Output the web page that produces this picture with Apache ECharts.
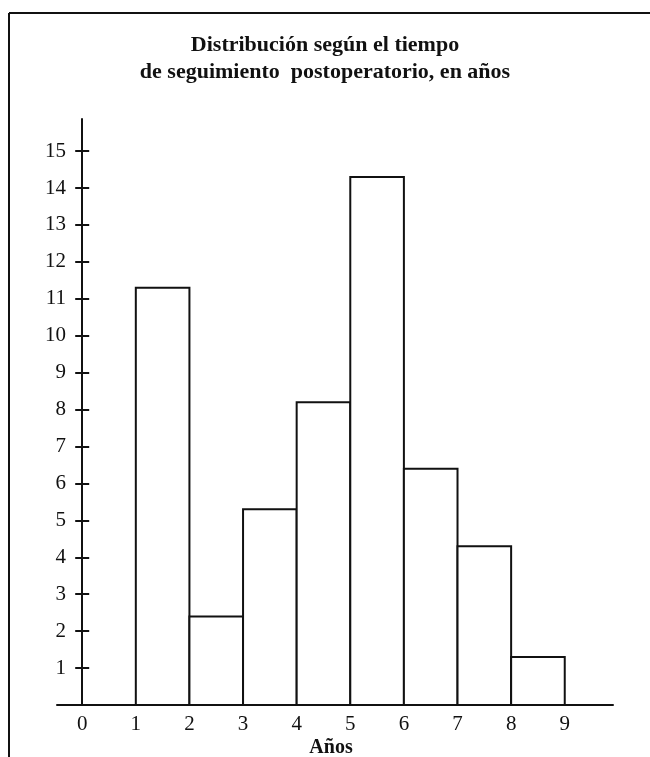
<!DOCTYPE html>
<html>
<head>
<meta charset="utf-8">
<script src="https://cdn.jsdelivr.net/npm/echarts@6/dist/echarts.min.js"></script>
<style>
  html, body { margin: 0; padding: 0; background: #fff; }
  #chart { width: 650px; height: 757px; }
</style>
</head>
<body>
<div id="chart"></div>
<script>
// histograma: tiempo de seguimiento postoperatorio
const binStart = [1, 2, 3, 4, 5, 6, 7, 8]
const binEnd = [2, 3, 4, 5, 6, 7, 8, 9]
const counts = [11.3, 2.4, 5.3, 8.2, 14.3, 6.4, 4.3, 1.3]
const xTicks = [0, 1, 2, 3, 4, 5, 6, 7, 8, 9]
const yTicks = [1, 2, 3, 4, 5, 6, 7, 8, 9, 10, 11, 12, 13, 14, 15]

const ink = '#111'
const serif = "'Liberation Serif', 'DejaVu Serif', serif"

let chart = echarts.init(document.getElementById('chart'), null, { renderer: 'canvas' })

let option = {
  backgroundColor: '#fff',
  animation: false,
  title: [
    {
      text: 'Distribución según el tiempo\nde seguimiento  postoperatorio, en años',
      left: 'center',
      top: 27,
      textStyle: {
        fontFamily: serif,
        fontSize: 22,
        fontWeight: 'bold',
        color: ink,
        lineHeight: 27,
      },
    },
    {
      text: 'Años',
      left: 326,
      top: 733,
      textAlign: 'center',
      textStyle: {
        fontFamily: serif,
        fontSize: 20,
        fontWeight: 'bold',
        color: ink,
      },
    },
  ],
  grid: {
    left: 57,
    right: 37,
    top: 119,
    bottom: 52,
  },
  xAxis: [
    {
      type: 'value',
      min: -0.47,
      max: 9.9,
      splitLine: { show: false },
      axisLine: { onZero: false, lineStyle: { color: ink, width: 2 } },
      axisTick: { show: false },
      axisLabel: {
        customValues: xTicks,
        margin: 9,
        fontFamily: serif,
        fontSize: 21,
        color: ink,
      },
    },
    {
      // eje auxiliar, solo para colocar las marcas interiores del eje y
      type: 'value',
      min: -0.47,
      max: 9.9,
      show: false,
      axisLine: { onZero: false },
    },
  ],
  yAxis: [
    {
      type: 'value',
      min: 0,
      max: 15.87,
      splitLine: { show: false },
      axisLine: { onZero: true, onZeroAxisIndex: 0, lineStyle: { color: ink, width: 2 } },
      axisTick: {
        customValues: yTicks,
        length: 7,
        lineStyle: { color: ink, width: 2 },
      },
      axisLabel: {
        customValues: yTicks,
        margin: -9,
        fontFamily: serif,
        fontSize: 21,
        color: ink,
      },
    },
    {
      type: 'value',
      min: 0,
      max: 15.87,
      position: 'left',
      splitLine: { show: false },
      axisLine: { show: false, onZero: true, onZeroAxisIndex: 1 },
      axisTick: {
        inside: true,
        customValues: yTicks,
        length: 7,
        lineStyle: { color: ink, width: 2 },
      },
      axisLabel: { show: false },
    },
  ],
  graphic: [
    // marco del escaneo (arriba e izquierda)
    {
      type: 'line',
      shape: { x1: 9, y1: 13, x2: 650, y2: 13 },
      style: { stroke: ink, lineWidth: 2 },
    },
    {
      type: 'line',
      shape: { x1: 9, y1: 13, x2: 9, y2: 757 },
      style: { stroke: ink, lineWidth: 2 },
    },
  ],
  series: [
    {
      name: 'Pacientes',
      type: 'custom',
      xAxisIndex: 0,
      yAxisIndex: 0,
      data: counts.map((c, i) => [binStart[i], binEnd[i], c]),
      renderItem: function (params, api) {
        let p0 = api.coord([api.value(0), api.value(2)])
        let p1 = api.coord([api.value(1), 0])
        return {
          type: 'rect',
          shape: { x: p0[0], y: p0[1], width: p1[0] - p0[0], height: p1[1] - p0[1] },
          style: { fill: '#fff', stroke: ink, lineWidth: 2 },
        }
      },
      z: 1,
    },
  ],
}

chart.setOption(option)
</script>
</body>
</html>
